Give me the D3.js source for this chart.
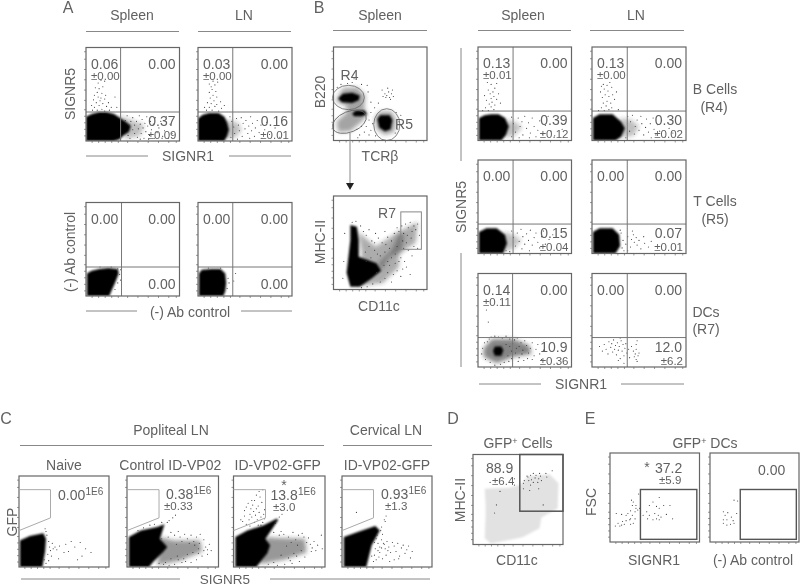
<!DOCTYPE html>
<html><head><meta charset="utf-8">
<script src="https://cdn.jsdelivr.net/npm/d3@7/dist/d3.min.js"></script>
<style>html,body{margin:0;padding:0;background:#fff}svg{display:block;filter:blur(0.35px)}text{font-family:"Liberation Sans",Arial,sans-serif;fill:#616161}</style>
</head><body><svg id="fig" width="800" height="586"></svg>
<script>
// ---- data; every plot axis runs 0-100 (relative fluorescence channel) ----
const decadeTicks = [6,13,20,27,34,44,55,66,77,88,96];

// Panel A
const aSpleenCore=[[0,0],[0,26],[6,29],[14,31],[22,31],[30,29],[36,25],[42,21],[48,16],[46,10],[40,6],[36,2],[30,0]];
const aSpleenHaze=[[36,27],[50,22],[62,17],[58,6],[42,2]];
const aSpleenDots=[[7,33],[9,36],[12,33],[14,38],[17,34],[20,32],[22,37],[25,33],[11,41],[15,43],[18,40],[13,47],[16,46],[20,45],[9,49],[12,52],[17,51],[21,49],[14,56],[10,57],[18,58],[13,62],[16,65],[20,64],[8,44],[24,41],[27,36],[31,47],[33,36],[6,38],[42,22],[44,27],[46,17],[48,21],[50,12],[50,25],[52,8],[52,17],[54,21],[55,4],[56,13],[57,27],[58,18],[59,8],[60,23],[61,14],[62,3],[63,19],[64,10],[65,26],[66,16],[68,6],[69,21],[70,12],[72,18],[73,3],[74,25],[76,9],[78,14],[80,21],[82,5],[84,11],[88,3],[90,18],[92,8],[45,6],[47,3],[58,2],[67,2],[86,26]];
const aLnCore=[[0,0],[0,24],[5,28],[12,30],[22,30],[28,26],[31,20],[33,12],[31,5],[28,0]];
const aLnHaze=[[30,22],[42,20],[46,12],[40,4],[30,2]];
const aLnDots=[[9,33],[12,36],[15,33],[18,37],[22,32],[25,35],[14,40],[17,43],[20,39],[24,42],[13,46],[16,49],[20,47],[12,52],[15,55],[19,53],[14,58],[18,60],[12,61],[16,64],[21,63],[10,41],[28,38],[7,36],[34,26],[36,21],[38,15],[39,8],[41,24],[43,17],[44,11],[46,25],[47,5],[48,19],[50,13],[51,22],[53,8],[54,16],[56,26],[57,11],[58,19],[60,5],[61,14],[63,22],[65,9],[67,17],[68,3],[71,12],[73,20],[76,7],[82,14],[87,4],[35,4],[42,2],[55,3]];
const aSpleenCtrlCore=[[1,0],[1,24],[6,27],[14,29],[24,30],[34,29],[35,24],[31,14],[27,5],[25,0]];
const aSpleenCtrlDots=[[37,28],[36,23],[34,14],[31,7],[27,31],[15,31],[37,17],[34,29]];
const aLnCtrlCore=[[1,0],[1,24],[4,28],[14,29],[24,29],[29,24],[30,14],[29,5],[27,0]];
const aLnCtrlDots=[[32,19],[31,8],[33,14],[24,30],[11,30],[40,24],[38,16]];

// Panel B
const bTopCore=[[5,45],[10,50],[20,51],[28,48],[27,43],[20,40],[9,41]];
const bTopCore2=[[47,23],[50,27],[60,27],[63,22],[61,12],[55,10],[49,14]];
const bTopCore3=[[20,29],[24,32],[33,32],[36,28],[30,26],[22,26]];
const bTopHaze=[[2,42],[10,56],[25,57],[34,48],[33,35],[36,27],[30,20],[18,10],[5,9],[3,20],[14,30],[14,37]];
const bTopHaze2=[[44,24],[50,31],[62,31],[67,22],[65,9],[55,6],[46,12]];
const bTopDots=[[52,54],[55,50],[57,48],[59,52],[60,46],[62,50],[64,47],[61,44],[56,46],[63,54],[58,56],[53,47],[42,18],[38,22],[40,11],[35,15],[44,35],[40,41],[37,52],[30,60],[22,66],[15,61],[67,30],[70,20],[68,12],[45,5],[38,6],[28,6],[25,12],[40,30],[72,27],[48,40],[20,62],[36,59],[8,60],[4,57],[66,8],[30,15],[33,9],[26,3]];
const bGates=[{cx:16,cy:46,rx:17,ry:13,rot:0},{cx:17,cy:20,rx:19,ry:11,rot:-22},{cx:57,cy:17,rx:14,ry:17,rot:0}];
const bBottomCore=[[18,69],[25,67],[27,53],[27,35],[38,31],[46,28],[51,20],[41,12],[28,3],[18,3],[14,18],[16,35],[18,53]];
const bBottomHaze=[[26,62],[45,46],[70,62],[90,72],[88,50],[70,38],[70,24],[53,7],[28,4],[30,40]];
const bBottomHaze2=[[50,20],[60,35],[72,40],[76,58],[70,60],[62,42],[48,28]];
const bBottomDots=[[29,68],[32,62],[35,58],[38,64],[41,52],[45,60],[48,55],[52,50],[55,62],[58,56],[62,52],[65,60],[68,66],[70,62],[73,68],[75,60],[77,70],[80,66],[82,72],[84,62],[86,68],[79,58],[83,55],[88,64],[90,70],[74,52],[78,50],[68,46],[60,44],[55,40],[50,36],[44,42],[38,46],[34,40],[40,34],[47,38],[75,44],[80,42],[72,34],[76,30],[66,28],[60,26],[58,18],[64,16],[68,20],[55,12],[50,8],[62,8],[72,14],[78,24],[84,36],[42,6],[36,3],[30,2],[24,73],[20,72],[12,60],[11,30],[10,12],[58,30],[46,18],[54,26],[70,30],[66,38],[35,30],[44,50],[56,48],[62,34],[74,22],[82,16],[86,46],[92,58],[90,44]];

// right-hand B panels
const rBSpleenCore=[[1,0],[1,24],[7,27],[14,28],[22,28],[29,24],[33,15],[30,6],[25,0]];
const rBSpleenHaze=[[30,22],[40,20],[47,14],[38,5],[30,3]];
const rBSpleenDots=[[5,32],[8,35],[11,32],[14,36],[17,33],[12,39],[15,41],[18,38],[9,43],[14,45],[17,47],[20,44],[13,50],[16,52],[11,54],[18,56],[22,50],[14,60],[10,62],[20,61],[24,40],[7,48],[36,25],[38,18],[40,9],[43,24],[45,15],[47,20],[48,6],[50,26],[52,13],[54,19],[56,8],[58,24],[60,15],[62,4],[64,11],[66,21],[69,7],[72,16],[75,26],[78,10],[82,5],[86,19],[90,12],[36,4],[44,3],[55,3]];
const rLSpleenCore=[[1,0],[1,24],[8,28],[22,28],[31,20],[35,13],[31,4],[25,0]];
const rLSpleenHaze=[[30,24],[42,22],[50,15],[44,5],[30,3]];
const rLSpleenDots=[[7,32],[10,35],[13,32],[15,37],[18,33],[21,35],[12,40],[16,42],[20,40],[24,44],[11,46],[14,49],[18,47],[22,49],[9,52],[13,55],[17,53],[21,57],[12,60],[16,59],[19,62],[10,58],[26,52],[28,33],[38,26],[40,10],[41,20],[43,27],[45,7],[46,15],[48,22],[50,11],[52,26],[53,18],[55,6],[57,14],[58,23],[60,9],[62,18],[63,3],[65,24],[66,12],[68,6],[70,17],[72,10],[74,21],[78,4],[82,13],[86,8],[36,3]];
const rTSpleenCore=[[1,0],[1,23],[9,27],[20,27],[29,20],[31,11],[27,0]];
const rTSpleenHaze=[[28,23],[38,20],[46,14],[38,5],[26,2]];
const rTSpleenDots=[[36,24],[38,17],[40,8],[42,22],[44,13],[46,26],[47,5],[48,18],[50,10],[52,21],[54,14],[55,3],[56,25],[58,9],[60,17],[62,22],[64,12],[66,6],[68,18],[70,24],[72,10],[76,15],[80,20],[84,6],[30,3],[34,2]];
const rTLnCore=[[1,0],[1,23],[8,27],[22,27],[29,20],[30,8],[25,0]];
const rTLnDots=[[31,22],[33,14],[32,6],[30,25],[36,10],[38,18],[41,7],[42,15],[44,20],[45,12],[47,17],[48,9],[50,14],[43,24],[52,5],[55,18],[56,11],[60,7],[63,13],[34,3],[38,3]];
const rDSpleenCore=[[18,22],[25,22],[27,18],[25,12],[18,12],[16,17]];
const rDSpleenHaze=[[6,20],[15,30],[38,30],[55,23],[57,14],[38,11],[20,4],[6,11]];
const rDSpleenDots=[[9,61],[11,48],[4,14],[5,20],[7,26],[10,27],[12,30],[14,32],[18,33],[22,32],[26,31],[30,33],[34,30],[37,25],[39,29],[42,31],[44,22],[46,26],[48,18],[50,28],[52,23],[54,15],[56,20],[58,26],[60,12],[62,19],[64,24],[66,14],[40,15],[44,10],[47,14],[36,9],[33,6],[28,5],[24,3],[18,2],[13,5],[8,8],[53,9],[58,8],[49,7],[43,6],[70,18],[68,8],[32,12],[36,17],[41,20],[30,24],[34,22]];
const rDLnDots=[[8,22],[11,17],[13,24],[15,19],[17,14],[18,27],[20,21],[21,25],[22,16],[23,29],[24,19],[25,23],[26,13],[27,26],[28,18],[29,22],[30,9],[31,28],[32,17],[33,24],[34,12],[35,20],[36,25],[37,15],[39,19],[40,10],[42,22],[44,17],[47,19],[50,15],[45,11],[47,24],[48,6],[34,4],[28,7],[47,8],[48,28],[49,12],[46,14],[30,31]];

// Panel C
const cNaiveCore=[[1,0],[1,29],[12,34],[27,37],[30,31],[29,17],[26,0]];
const cNaiveDots=[[31,35],[30,39],[33,28],[34,22],[32,14],[35,18],[38,20],[37,26],[40,22],[36,12],[33,7],[30,4],[29,42],[42,19],[45,23],[50,16],[55,17],[58,28],[62,22],[68,27],[70,12],[74,20],[80,16],[44,9],[52,25],[65,8],[28,8]];
const cCtrlCore=[[2,0],[2,33],[15,40],[33,44],[41,47],[36,31],[44,22],[40,17],[29,6],[24,0]];
const cCtrlHaze=[[36,33],[51,29],[80,29],[82,17],[58,7],[33,2]];
const cCtrlDots=[[46,51],[50,54],[53,57],[44,49],[38,49],[30,47],[25,46],[18,43],[12,40],[38,31],[45,33],[52,35],[58,33],[63,36],[70,35],[76,33],[80,36],[84,30],[86,22],[82,12],[76,8],[70,5],[60,5],[52,3],[46,2],[40,3],[88,14],[90,25],[74,24],[68,26],[66,14],[72,16],[60,28],[54,25],[78,20],[48,9],[55,12],[62,9],[48,38],[56,39],[66,31],[73,28],[79,26],[84,18],[64,6],[56,8],[78,15],[88,19],[35,4],[42,5],[92,18]];
const cGfpCore=[[2,0],[2,33],[15,40],[33,46],[47,53],[49,52],[35,31],[40,24],[37,15],[25,0]];
const cGfpHaze=[[36,33],[48,32],[78,31],[80,16],[55,8],[28,3]];
const cGfpDots=[[12,62],[14,66],[16,70],[18,58],[19,64],[20,55],[21,68],[22,61],[23,73],[24,57],[25,64],[26,52],[27,67],[28,60],[29,77],[30,55],[31,71],[32,49],[33,58],[34,63],[35,80],[10,50],[14,47],[17,52],[23,49],[27,46],[30,46],[18,45],[34,53],[20,73],[25,79],[28,83],[12,56],[8,52],[32,85],[50,55],[53,58],[46,48],[50,35],[55,36],[60,33],[65,38],[71,35],[75,37],[82,32],[84,25],[85,17],[78,11],[72,6],[64,4],[56,3],[48,2],[88,28],[90,18],[70,24],[63,27],[58,23],[66,15],[74,18],[52,13],[60,10],[96,35],[97,20],[44,38],[52,39],[68,30],[80,27],[86,21],[77,33],[69,12],[62,7],[44,5],[38,3],[92,24]];
const cCervCore=[[2,0],[2,33],[19,39],[37,45],[42,40],[33,24],[27,0]];
const cCervDots=[[44,44],[43,40],[45,36],[36,27],[38,31],[40,26],[42,22],[44,30],[46,26],[48,20],[50,28],[52,22],[54,16],[56,27],[58,23],[60,17],[62,26],[64,12],[66,21],[68,24],[70,15],[72,19],[74,23],[76,10],[78,17],[36,13],[38,8],[41,11],[45,9],[49,13],[53,6],[58,8],[63,9],[47,52],[48,50],[16,60],[49,56],[40,18],[44,21],[37,20],[42,16],[47,25],[51,18],[39,35],[33,12],[35,6]];
const cGate=[[0,85],[35,85],[35,54],[0,40]];

// Panel D
const dCloud=[[13,62],[40,63],[52,66],[62,76],[85,78],[95,68],[94,40],[76,30],[74,18],[55,8],[20,1],[13,7],[14,30],[14,45]];
const dDots=[[56,68],[57,71],[60,76],[62,71],[64,77],[67,79],[69,74],[70,77],[73,73],[75,76],[76,71],[72,69],[67,69],[64,66],[61,75],[65,72],[74,79],[81,79],[88,82],[82,75],[56,62],[63,60],[73,62],[78,44],[30,59],[26,44],[24,35],[46,66],[46,73],[19,69]];
const dGate={x0:52,x1:100,y0:37,y1:100};

// Panel E
const eDots=[[7,32],[13,31],[18,30],[24,47],[26,45],[25,41],[29,41],[29,38],[31,36],[28,34],[23,35],[20,32],[25,30],[23,26],[28,26],[22,25],[18,24],[14,23],[9,21],[11,18],[6,18],[13,19],[16,20],[23,20],[32,54],[33,38],[48,45],[55,50],[52,40],[44,41],[55,38],[67,41],[60,41],[41,34],[44,30],[50,32],[54,30],[57,28],[63,31],[70,26],[42,26],[37,30],[55,25],[52,26],[48,25],[26,21]];
const eCtrlDots=[[27,47],[31,46],[15,34],[17,30],[20,33],[30,32],[24,28],[15,25],[19,25],[26,24],[15,21],[19,19],[23,20],[27,21]];
const eGate={x0:34,x1:97,y0:3,y1:59};

// texts
const spleen="Spleen", ln="LN", signr1="SIGNR1", signr5="SIGNR5", abCtrl="(-) Ab control";
const panelLetters=["A","B","C","D","E"];
const statsASpleen=["0.06","±0.00","0.00","0.37","±0.09"];
const statsALn=["0.03","±0.00","0.00","0.16","±0.01"];
const statsCtrl=["0.00","","0.00","0.00",""];
const statsRB1=["0.13","±0.01","0.00","0.39","±0.12"];
const statsRB2=["0.13","±0.00","0.00","0.30","±0.02"];
const statsRT1=["0.00","","0.00","0.15","±0.04"];
const statsRT2=["0.00","","0.00","0.07","±0.01"];
const statsRD1=["0.14","±0.11","0.00","10.9","±0.36"];
const statsRD2=["0.00","","0.00","12.0","±6.2"];
const cNames=["Naive","Control ID-VP02","ID-VP02-GFP","ID-VP02-GFP"];
const cMeans=["0.00","0.38","13.8","0.93"];
const cErrors=["","±0.33","±3.0","±1.3"];

// ---- drawing ----
const svg=d3.select("#fig");
const LINE="#666";
const defs=svg.append("defs");
defs.append("filter").attr("id","soft").attr("x","-20%").attr("y","-20%").attr("width","140%").attr("height","140%").append("feGaussianBlur").attr("stdDeviation",0.8);
defs.append("filter").attr("id","softer").attr("x","-30%").attr("y","-30%").attr("width","160%").attr("height","160%").append("feGaussianBlur").attr("stdDeviation",2.2);
let clipN=0;
function txt(s,x,y,o={}){
  const t=svg.append("text").attr("x",x).attr("y",y).attr("font-size",o.size||14).attr("text-anchor",o.anchor||"middle").text(s);
  if(o.rot!==undefined) t.attr("transform",`rotate(${o.rot} ${x} ${y})`);
  return t;
}
function rule(x0,x1,y){svg.append("line").attr("x1",x0).attr("x2",x1).attr("y1",y).attr("y2",y).attr("stroke","#888").attr("stroke-width",1);}
function vrule(x,y0,y1){svg.append("line").attr("x1",x).attr("x2",x).attr("y1",y0).attr("y2",y1).attr("stroke","#888").attr("stroke-width",1);}

function plot(b,d){
  const x=d3.scaleLinear().domain([0,100]).range([b[0],b[1]]);
  const y=d3.scaleLinear().domain([0,100]).range([b[3],b[2]]);
  const g=svg.append("g");
  const id="clip"+(clipN++);
  defs.append("clipPath").attr("id",id).append("rect").attr("x",b[0]).attr("y",b[2]).attr("width",b[1]-b[0]).attr("height",b[3]-b[2]);
  const inner=g.append("g").attr("clip-path",`url(#${id})`);
  const blob=d3.line().x(p=>x(p[0])).y(p=>y(p[1])).curve(d3.curveLinearClosed);
  (d.cloud||[]).forEach(c=>inner.append("path").attr("d",blob(c)).attr("fill","#e2e2e2").attr("filter","url(#soft)"));
  (d.haze||[]).forEach(c=>inner.append("path").attr("d",blob(c)).attr("fill","#333").attr("fill-opacity",d.hazeOpacity||0.3).attr("filter","url(#softer)"));
  (d.core||[]).forEach(c=>inner.append("path").attr("d",blob(c)).attr("fill","#050505").attr("filter","url(#soft)"));
  inner.selectAll("circle.dot").data(d.dots||[]).join("circle").attr("class","dot")
    .attr("cx",p=>x(p[0])).attr("cy",p=>y(p[1])).attr("r",d.r||0.55).attr("fill","#333");
  g.append("g").attr("transform",`translate(0,${b[3]})`)
    .call(d3.axisBottom(x).tickValues(decadeTicks).tickSize(2).tickFormat(""))
    .call(a=>{a.select(".domain").remove();a.selectAll("line").attr("stroke","#999");});
  g.append("g").attr("transform",`translate(${b[0]},0)`)
    .call(d3.axisLeft(y).tickValues(decadeTicks).tickSize(2).tickFormat(""))
    .call(a=>{a.select(".domain").remove();a.selectAll("line").attr("stroke","#999");});
  if(d.q){
    g.append("line").attr("x1",x(d.q[0])).attr("x2",x(d.q[0])).attr("y1",b[2]).attr("y2",b[3]).attr("stroke","#777");
    g.append("line").attr("x1",b[0]).attr("x2",b[1]).attr("y1",y(d.q[1])).attr("y2",y(d.q[1])).attr("stroke","#777");
  }
  g.append("rect").attr("x",b[0]).attr("y",b[2]).attr("width",b[1]-b[0]).attr("height",b[3]-b[2])
    .attr("fill","none").attr("stroke",LINE).attr("stroke-width",1.2);
  if(d.stats){
    const s=d.stats, sm=11.5;
    txt(s[0],b[0]+5,b[2]+21,{anchor:"start"});
    if(s[1]) txt(s[1],b[0]+5,b[2]+32,{anchor:"start",size:sm});
    txt(s[2],b[1]-4,b[2]+21,{anchor:"end"});
    if(s[4]){txt(s[3],b[1]-4,b[2]+78,{anchor:"end"});txt(s[4],b[1]-3,b[2]+91,{anchor:"end",size:sm});}
    else txt(s[3],b[1]-4,b[2]+86,{anchor:"end"});
  }
  return {x,y,g};
}

// Panel A
plot([86,179.5,47.5,141],{core:[aSpleenCore],haze:[aSpleenHaze],dots:aSpleenDots,q:[37,31],stats:statsASpleen});
plot([198,292,47.5,141],{core:[aLnCore],haze:[aLnHaze],dots:aLnDots,q:[37,31],stats:statsALn});
plot([86,179.5,202.5,296],{core:[aSpleenCtrlCore],dots:aSpleenCtrlDots,q:[38,31],stats:statsCtrl});
plot([198,292,202.5,296],{core:[aLnCtrlCore],dots:aLnCtrlDots,q:[37,31],stats:statsCtrl});
txt(panelLetters[0],68,13,{size:16});
txt(spleen,132,20);rule(86,179,31.5);
txt(ln,244,20);rule(198,291,31.5);
txt(signr5,75,94,{rot:-90});
txt(signr1,188,161);rule(86,148,156);rule(229,291,156);
txt(abCtrl,75,252,{rot:-90});
txt(abCtrl,190,317);rule(86,137,311);rule(241,292,311);

// Panel B gating
const bt=plot([333.5,427,47,140.5],{core:[bTopCore,bTopCore2,bTopCore3],haze:[bTopHaze,bTopHaze2],hazeOpacity:0.45,dots:bTopDots});
bGates.forEach(e=>bt.g.append("ellipse").attr("cx",bt.x(e.cx)).attr("cy",bt.y(e.cy))
  .attr("rx",bt.x(e.rx)-bt.x(0)).attr("ry",bt.y(0)-bt.y(e.ry))
  .attr("transform",`rotate(${e.rot} ${bt.x(e.cx)} ${bt.y(e.cy)})`)
  .attr("fill","none").attr("stroke","#666").attr("stroke-width",0.8));
const bb=plot([333.5,427,196,289.5],{core:[bBottomCore],haze:[bBottomHaze,bBottomHaze2],hazeOpacity:0.4,dots:bBottomDots});
bb.g.append("rect").attr("x",bb.x(72)).attr("y",bb.y(83)).attr("width",bb.x(94)-bb.x(72)).attr("height",bb.y(43)-bb.y(83))
  .attr("fill","none").attr("stroke","#888");
txt(panelLetters[1],319,13,{size:16});
txt(spleen,380,20);rule(333,427,30.5);
txt("B220",325,92,{rot:-90});
txt("TCRβ",380,161);
txt("R4",349.5,80);txt("R5",404,129);txt("R7",387,218);
txt("MHC-II",325,242,{rot:-90});
txt("CD11c",379,311);
vrule(350,133,184);
svg.append("path").attr("d",d3.line()([[346,183],[354,183],[350,190]])+"Z").attr("fill","#222");

// Panel B right
const rC=[[478,571.5],[592,686]], rR=[[47,140.5],[160,253.5],[273.5,367]];
plot([rC[0][0],rC[0][1],rR[0][0],rR[0][1]],{core:[rBSpleenCore],haze:[rBSpleenHaze],dots:rBSpleenDots,q:[37.5,31.5],stats:statsRB1});
plot([rC[1][0],rC[1][1],rR[0][0],rR[0][1]],{core:[rLSpleenCore],haze:[rLSpleenHaze],dots:rLSpleenDots,q:[37.5,31.5],stats:statsRB2});
plot([rC[0][0],rC[0][1],rR[1][0],rR[1][1]],{core:[rTSpleenCore],haze:[rTSpleenHaze],dots:rTSpleenDots,q:[37.5,31.5],stats:statsRT1});
plot([rC[1][0],rC[1][1],rR[1][0],rR[1][1]],{core:[rTLnCore],dots:rTLnDots,q:[37.5,31.5],stats:statsRT2});
plot([rC[0][0],rC[0][1],rR[2][0],rR[2][1]],{core:[rDSpleenCore],haze:[rDSpleenHaze],hazeOpacity:0.6,dots:rDSpleenDots,q:[37,31.5],stats:statsRD1});
plot([rC[1][0],rC[1][1],rR[2][0],rR[2][1]],{dots:rDLnDots,q:[37.5,31.5],stats:statsRD2});
txt(spleen,523,20);rule(478,571,30.5);
txt(ln,636,20);rule(590,684,30.5);
vrule(461,48,161);vrule(461,253,367);
txt(signr5,466,207,{rot:-90});
txt(signr1,581,389);rule(479,541,384);rule(621,684,384);
[["B Cells",715,94],["(R4)",714,112],["T Cells",715,206],["(R5)",715,224],["DCs",706,317],["(R7)",706,334]].forEach(a=>txt(a[0],a[1],a[2]));

// Panel C
const cB=[[19,109],[127,218.5],[233.5,325],[342,432]];
const cCores=[cNaiveCore,cCtrlCore,cGfpCore,cCervCore], cHazes=[[],[cCtrlHaze],[cGfpHaze],[]], cDotSets=[cNaiveDots,cCtrlDots,cGfpDots,cCervDots];
const cOff=[{x:39,y:500,ex:0},{x:39,y:499,ex:37},{x:37,y:500,ex:39.5},{x:39,y:499,ex:43}];
cB.forEach((c,i)=>{
  const p=plot([c[0],c[1],476,567],{core:[cCores[i]],haze:cHazes[i],hazeOpacity:0.5,dots:cDotSets[i]});
  p.g.append("path").attr("d",d3.line().x(v=>p.x(v[0])).y(v=>p.y(v[1]))(cGate)).attr("fill","none").attr("stroke","#aaa");
  const o=cOff[i];
  txt(cMeans[i],c[0]+o.x,o.y,{anchor:"start"});
  txt("1E6",c[0]+o.x+27.5,o.y-5,{anchor:"start",size:10});
  if(cErrors[i]) txt(cErrors[i],c[0]+o.ex,o.y+11,{anchor:"start",size:11.5});
  txt(cNames[i],(c[0]+c[1])/2+(i==1?-2.5:i==2?-1.5:0),470);
});
txt("*",284,490,{size:14});
txt(panelLetters[2],6,424,{size:16});
txt("Popliteal LN",171,435);rule(20,324,445.5);
txt("Cervical LN",386,435);rule(343,432,445.5);
txt("GFP",17,522,{rot:-90});
txt(signr5,225,584,{size:13.5});rule(21,180,579);rule(270,430,579);

// Panel D
const dp=plot([473,563,454.5,544.5],{cloud:[dCloud],dots:dDots});
dp.g.append("rect").attr("x",dp.x(dGate.x0)).attr("y",dp.y(dGate.y1)).attr("width",dp.x(dGate.x1)-dp.x(dGate.x0)).attr("height",dp.y(dGate.y0)-dp.y(dGate.y1))
  .attr("fill","none").attr("stroke","#555").attr("stroke-width",1.5);
txt(panelLetters[3],453,424,{size:16});
svg.append("text").attr("x",518).attr("y",448).attr("font-size",14).attr("text-anchor","middle")
  .call(t=>{t.append("tspan").text("GFP");t.append("tspan").attr("dy",-4).attr("font-size",9).text("+");t.append("tspan").attr("dy",4).text(" Cells");});
txt("88.9",486,473,{anchor:"start"});txt("±6.4",492,485,{anchor:"start",size:11.5});
txt("MHC-II",465,500,{rot:-90});txt("CD11c",517,565);

// Panel E
[[610,699.5,eDots],[710,799,eCtrlDots]].forEach(a=>{
  const p=plot([a[0],a[1],453,542],{dots:a[2]});
  p.g.append("rect").attr("x",p.x(eGate.x0)).attr("y",p.y(eGate.y1)).attr("width",p.x(eGate.x1)-p.x(eGate.x0)).attr("height",p.y(eGate.y0)-p.y(eGate.y1))
    .attr("fill","none").attr("stroke","#555").attr("stroke-width",1.4);
});
txt(panelLetters[4],590,424,{size:16});
svg.append("text").attr("x",705).attr("y",448).attr("font-size",14).attr("text-anchor","middle")
  .call(t=>{t.append("tspan").text("GFP");t.append("tspan").attr("dy",-4).attr("font-size",9).text("+");t.append("tspan").attr("dy",4).text(" DCs");});
txt("*",647,472,{size:14});txt("37.2",655,473,{anchor:"start"});txt("±5.9",659,484,{anchor:"start",size:11.5});
txt("0.00",758,475,{anchor:"start"});
txt("FSC",596,502,{rot:-90});txt(signr1,654,565);txt(abCtrl,753,565);
</script></body></html>
